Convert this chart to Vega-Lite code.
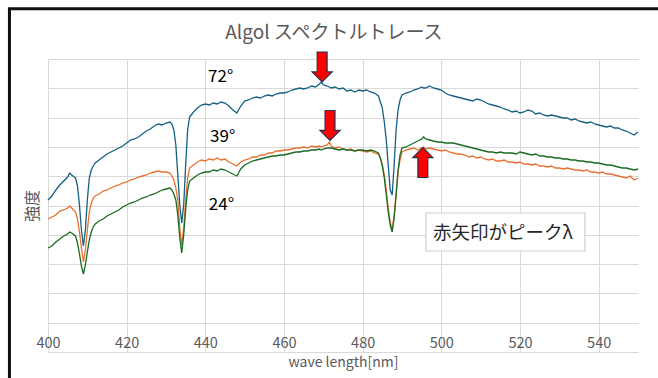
{
  "$schema": "https://vega.github.io/schema/vega-lite/v6.json",
  "width": 590,
  "height": 293,
  "autosize": {"type": "none"},
  "padding": {"left": 48, "top": 59, "right": 20, "bottom": 26},
  "background": "white",
  "config": {
    "view": {"stroke": null},
    "font": "Noto Sans CJK JP"
  },
  "datasets": {
    "spec": [
      {"wl":400,"72°":152,"39°":133,"24°":104},
      {"wl":401,"72°":156,"39°":135,"24°":106},
      {"wl":402,"72°":162,"39°":137,"24°":110},
      {"wl":403,"72°":167,"39°":141,"24°":113},
      {"wl":404,"72°":171,"39°":142,"24°":116},
      {"wl":405,"72°":175,"39°":144,"24°":118},
      {"wl":405.5,"72°":179,"39°":146,"24°":120},
      {"wl":406,"72°":177,"39°":144,"24°":119},
      {"wl":407,"72°":174,"39°":140,"24°":116},
      {"wl":407.5,"72°":166,"39°":133,"24°":109},
      {"wl":408,"72°":147,"39°":120,"24°":98},
      {"wl":408.5,"72°":122,"39°":104,"24°":86},
      {"wl":409,"72°":106,"39°":90,"24°":78},
      {"wl":409.5,"72°":122,"39°":102,"24°":87},
      {"wl":410,"72°":152,"39°":122,"24°":100},
      {"wl":410.5,"72°":174,"39°":140,"24°":112},
      {"wl":411,"72°":182,"39°":149,"24°":120},
      {"wl":411.5,"72°":186,"39°":154,"24°":125},
      {"wl":412,"72°":189,"39°":156,"24°":128},
      {"wl":413,"72°":192,"39°":158,"24°":131},
      {"wl":414,"72°":195,"39°":161,"24°":133},
      {"wl":415,"72°":198,"39°":162,"24°":136},
      {"wl":416,"72°":200,"39°":164,"24°":138},
      {"wl":417,"72°":202,"39°":166,"24°":140},
      {"wl":418,"72°":204,"39°":167,"24°":142},
      {"wl":419,"72°":206,"39°":169,"24°":145},
      {"wl":420,"72°":209,"39°":170,"24°":147},
      {"wl":421,"72°":212,"39°":172,"24°":149},
      {"wl":422,"72°":213,"39°":173,"24°":150},
      {"wl":423,"72°":215,"39°":175,"24°":152},
      {"wl":424,"72°":218,"39°":176,"24°":154},
      {"wl":425,"72°":221,"39°":177,"24°":155},
      {"wl":426,"72°":223,"39°":179,"24°":157},
      {"wl":427,"72°":226,"39°":180,"24°":158},
      {"wl":428,"72°":228,"39°":181,"24°":160},
      {"wl":429,"72°":227,"39°":180,"24°":162},
      {"wl":430,"72°":229,"39°":180,"24°":163},
      {"wl":431,"72°":230,"39°":179,"24°":164},
      {"wl":431.5,"72°":228,"39°":176,"24°":162},
      {"wl":432,"72°":222,"39°":172,"24°":158},
      {"wl":432.5,"72°":207,"39°":164,"24°":152},
      {"wl":433,"72°":177,"39°":152,"24°":137},
      {"wl":433.5,"72°":147,"39°":124,"24°":114},
      {"wl":434,"72°":129,"39°":107,"24°":99},
      {"wl":434.5,"72°":147,"39°":124,"24°":117},
      {"wl":435,"72°":187,"39°":152,"24°":142},
      {"wl":435.5,"72°":222,"39°":174,"24°":162},
      {"wl":436,"72°":235,"39°":184,"24°":171},
      {"wl":437,"72°":240,"39°":187,"24°":174},
      {"wl":438,"72°":244,"39°":190,"24°":177},
      {"wl":439,"72°":247,"39°":192,"24°":179},
      {"wl":440,"72°":248,"39°":191,"24°":180},
      {"wl":441,"72°":247,"39°":193,"24°":180},
      {"wl":442,"72°":249,"39°":192,"24°":182},
      {"wl":443,"72°":248,"39°":194,"24°":181},
      {"wl":444,"72°":250,"39°":192,"24°":183},
      {"wl":445,"72°":249,"39°":193,"24°":182},
      {"wl":446,"72°":246,"39°":190,"24°":180},
      {"wl":447,"72°":242,"39°":188,"24°":178},
      {"wl":448,"72°":239,"39°":186,"24°":176},
      {"wl":449,"72°":246,"39°":190,"24°":183},
      {"wl":450,"72°":251,"39°":192,"24°":187},
      {"wl":451,"72°":252,"39°":193,"24°":189},
      {"wl":452,"72°":254,"39°":195,"24°":191},
      {"wl":453,"72°":255,"39°":195,"24°":192},
      {"wl":454,"72°":254,"39°":197,"24°":193},
      {"wl":455,"72°":256,"39°":197,"24°":194},
      {"wl":456,"72°":257,"39°":199,"24°":195},
      {"wl":457,"72°":256,"39°":199,"24°":196},
      {"wl":458,"72°":258,"39°":201,"24°":196},
      {"wl":459,"72°":259,"39°":201,"24°":197},
      {"wl":460,"72°":259,"39°":202,"24°":197},
      {"wl":461,"72°":260,"39°":202,"24°":198},
      {"wl":462,"72°":262,"39°":203,"24°":199},
      {"wl":463,"72°":263,"39°":204,"24°":200},
      {"wl":464,"72°":264,"39°":204,"24°":200},
      {"wl":465,"72°":263,"39°":205,"24°":201},
      {"wl":466,"72°":264,"39°":204,"24°":201},
      {"wl":467,"72°":266,"39°":206,"24°":202},
      {"wl":468,"72°":265,"39°":205,"24°":202},
      {"wl":469,"72°":268,"39°":206,"24°":203},
      {"wl":469.5,"72°":270,"39°":205,"24°":202},
      {"wl":470,"72°":267,"39°":206,"24°":203},
      {"wl":471,"72°":266,"39°":207,"24°":204},
      {"wl":471.5,"72°":265,"39°":210,"24°":204},
      {"wl":472,"72°":264,"39°":206,"24°":204},
      {"wl":473,"72°":265,"39°":204,"24°":203},
      {"wl":474,"72°":263,"39°":205,"24°":202},
      {"wl":475,"72°":264,"39°":203,"24°":203},
      {"wl":476,"72°":261,"39°":202,"24°":202},
      {"wl":477,"72°":262,"39°":203,"24°":202},
      {"wl":478,"72°":260,"39°":201,"24°":201},
      {"wl":479,"72°":262,"39°":202,"24°":202},
      {"wl":480,"72°":261,"39°":201,"24°":202},
      {"wl":481,"72°":262,"39°":200,"24°":201},
      {"wl":482,"72°":260,"39°":201,"24°":202},
      {"wl":483,"72°":259,"39°":199,"24°":201},
      {"wl":484,"72°":256,"39°":198,"24°":199},
      {"wl":484.5,"72°":250,"39°":194,"24°":194},
      {"wl":485,"72°":244,"39°":187,"24°":186},
      {"wl":485.5,"72°":230,"39°":177,"24°":174},
      {"wl":486,"72°":212,"39°":162,"24°":157},
      {"wl":486.5,"72°":187,"39°":144,"24°":140},
      {"wl":487,"72°":162,"39°":130,"24°":127},
      {"wl":487.5,"72°":157,"39°":122,"24°":120},
      {"wl":488,"72°":187,"39°":137,"24°":134},
      {"wl":488.5,"72°":222,"39°":157,"24°":157},
      {"wl":489,"72°":242,"39°":180,"24°":182},
      {"wl":489.5,"72°":252,"39°":192,"24°":197},
      {"wl":490,"72°":257,"39°":200,"24°":204},
      {"wl":491,"72°":259,"39°":202,"24°":205},
      {"wl":492,"72°":260,"39°":203,"24°":207},
      {"wl":493,"72°":262,"39°":204,"24°":209},
      {"wl":494,"72°":263,"39°":202,"24°":211},
      {"wl":495,"72°":265,"39°":204,"24°":213},
      {"wl":495.5,"72°":264,"39°":205,"24°":215},
      {"wl":496,"72°":264,"39°":203,"24°":213},
      {"wl":497,"72°":266,"39°":204,"24°":212},
      {"wl":498,"72°":264,"39°":203,"24°":211},
      {"wl":499,"72°":263,"39°":202,"24°":210},
      {"wl":500,"72°":262,"39°":201,"24°":210},
      {"wl":501,"72°":259,"39°":202,"24°":209},
      {"wl":502,"72°":257,"39°":200,"24°":209},
      {"wl":503,"72°":256,"39°":199,"24°":209},
      {"wl":504,"72°":255,"39°":198,"24°":208},
      {"wl":505,"72°":254,"39°":198,"24°":207},
      {"wl":506,"72°":253,"39°":197,"24°":206},
      {"wl":507,"72°":252,"39°":195,"24°":205},
      {"wl":508,"72°":251,"39°":196,"24°":204},
      {"wl":509,"72°":253,"39°":194,"24°":203},
      {"wl":510,"72°":252,"39°":195,"24°":202},
      {"wl":511,"72°":250,"39°":193,"24°":201},
      {"wl":512,"72°":248,"39°":192,"24°":200},
      {"wl":513,"72°":247,"39°":193,"24°":200},
      {"wl":514,"72°":246,"39°":191,"24°":199},
      {"wl":515,"72°":245,"39°":191,"24°":200},
      {"wl":516,"72°":243,"39°":192,"24°":199},
      {"wl":517,"72°":242,"39°":190,"24°":199},
      {"wl":518,"72°":240,"39°":190,"24°":199},
      {"wl":519,"72°":241,"39°":189,"24°":198},
      {"wl":520,"72°":239,"39°":190,"24°":200},
      {"wl":521,"72°":240,"39°":188,"24°":199},
      {"wl":522,"72°":242,"39°":188,"24°":198},
      {"wl":523,"72°":241,"39°":187,"24°":197},
      {"wl":524,"72°":238,"39°":188,"24°":198},
      {"wl":525,"72°":239,"39°":186,"24°":196},
      {"wl":526,"72°":237,"39°":186,"24°":196},
      {"wl":527,"72°":236,"39°":185,"24°":195},
      {"wl":528,"72°":237,"39°":186,"24°":195},
      {"wl":529,"72°":236,"39°":184,"24°":194},
      {"wl":530,"72°":235,"39°":184,"24°":194},
      {"wl":531,"72°":234,"39°":183,"24°":193},
      {"wl":532,"72°":234,"39°":184,"24°":193},
      {"wl":533,"72°":232,"39°":183,"24°":192},
      {"wl":534,"72°":233,"39°":182,"24°":192},
      {"wl":535,"72°":231,"39°":182,"24°":191},
      {"wl":536,"72°":230,"39°":181,"24°":191},
      {"wl":537,"72°":229,"39°":182,"24°":190},
      {"wl":538,"72°":230,"39°":180,"24°":190},
      {"wl":539,"72°":228,"39°":180,"24°":189},
      {"wl":540,"72°":227,"39°":179,"24°":189},
      {"wl":541,"72°":226,"39°":180,"24°":188},
      {"wl":542,"72°":225,"39°":178,"24°":187},
      {"wl":543,"72°":226,"39°":178,"24°":187},
      {"wl":544,"72°":224,"39°":177,"24°":186},
      {"wl":545,"72°":224,"39°":176,"24°":185},
      {"wl":546,"72°":222,"39°":175,"24°":184},
      {"wl":547,"72°":221,"39°":174,"24°":184},
      {"wl":548,"72°":219,"39°":176,"24°":183},
      {"wl":549,"72°":217,"39°":172,"24°":182},
      {"wl":550,"72°":220,"39°":174,"24°":183}
    ],
    "labels": [
      {"wl": 440.7, "v": 275, "t": "72°"},
      {"wl": 441.2, "v": 215, "t": "39°"},
      {"wl": 440.9, "v": 147, "t": "24°"}
    ],
    "arrows": [
      {"wl": 469.7, "v": 285, "dir": "down"},
      {"wl": 471.7, "v": 226.5, "dir": "down"},
      {"wl": 495.3, "v": 189.5, "dir": "up"}
    ],
    "note": [
      {"x1": 496.1, "x2": 536.5, "y1": 139, "y2": 101, "tx": 497.9, "ty": 119, "t": "赤矢印がピークλ"}
    ]
  },
  "layer": [
    {
      "data": {"name": "spec"},
      "transform": [{"fold": ["72°", "39°", "24°"], "as": ["series", "v"]}],
      "mark": {"type": "line", "strokeWidth": 1.3, "interpolate": "linear"},
      "encoding": {
        "x": {
          "field": "wl", "type": "quantitative",
          "scale": {"domain": [400, 550], "nice": false, "zero": false},
          "axis": {
            "values": [400, 420, 440, 460, 480, 500, 520, 540],
            "tickCount": 10,
            "title": "wave length[nm]",
            "titleFontSize": 14,
            "titleFontWeight": "normal",
            "titleColor": "#595959",
            "titlePadding": 3,
            "labelFontSize": 14.5,
            "labelColor": "#595959",
            "labelBaseline": "middle",
            "labelPadding": -9,
            "labelFlush": false,
            "labelOverlap": false,
            "ticks": false,
            "grid": true,
            "gridColor": "#d9d9d9",
            "gridWidth": 1,
            "domain": true,
            "domainColor": "#d9d9d9",
            "domainWidth": 1
          }
        },
        "y": {
          "field": "v", "type": "quantitative",
          "scale": {"domain": [0, 293], "nice": false, "zero": false},
          "axis": {
            "values": [0, 29.3, 58.6, 87.9, 117.2, 146.5, 175.8, 205.1, 234.4, 263.7, 293],
            "tickCount": 12,
            "title": "強度",
            "titleFontSize": 16,
            "titleFontWeight": "normal",
            "titleColor": "#595959",
            "titlePadding": 8,
            "labels": false,
            "ticks": false,
            "domain": false,
            "grid": true,
            "gridColor": "#d9d9d9",
            "gridWidth": 1
          }
        },
        "color": {
          "field": "series", "type": "nominal",
          "scale": {"domain": ["72°", "39°", "24°"], "range": ["#156082", "#E97132", "#196B24"]},
          "legend": null
        }
      }
    },
    {
      "data": {"name": "labels"},
      "mark": {"type": "text", "align": "left", "baseline": "middle", "fontSize": 17, "color": "#000000", "font": "Noto Sans CJK JP"},
      "encoding": {
        "x": {"field": "wl", "type": "quantitative"},
        "y": {"field": "v", "type": "quantitative"},
        "text": {"field": "t"}
      }
    },
    {
      "data": {"name": "arrows"},
      "mark": {"type": "point", "filled": true, "opacity": 1, "fill": "#ff0000", "stroke": "#263250", "strokeWidth": 1.2, "size": 900},
      "encoding": {
        "x": {"field": "wl", "type": "quantitative"},
        "y": {"field": "v", "type": "quantitative"},
        "shape": {
          "field": "dir", "type": "nominal",
          "scale": {"domain": ["down", "up"], "range": ["M-0.33,-1L0.33,-1L0.33,0.33L0.67,0.33L0,1L-0.67,0.33L-0.33,0.33Z", "M-0.33,1L0.33,1L0.33,-0.33L0.67,-0.33L0,-1L-0.67,-0.33L-0.33,-0.33Z"]},
          "legend": null
        }
      }
    },
    {
      "data": {"name": "note"},
      "mark": {"type": "rect", "fill": "white", "stroke": "#d0d0d0", "strokeWidth": 1.2},
      "encoding": {
        "x": {"field": "x1", "type": "quantitative"},
        "x2": {"field": "x2"},
        "y": {"field": "y1", "type": "quantitative"},
        "y2": {"field": "y2"}
      }
    },
    {
      "data": {"name": "note"},
      "mark": {"type": "text", "align": "left", "baseline": "middle", "fontSize": 18.5, "color": "#262626", "font": "Noto Sans CJK JP"},
      "encoding": {
        "x": {"field": "tx", "type": "quantitative"},
        "y": {"field": "ty", "type": "quantitative"},
        "text": {"field": "t"}
      }
    },
    {
      "data": {"values": [{}]},
      "mark": {"type": "text", "align": "center", "baseline": "alphabetic", "fontSize": 19, "color": "#595959", "font": "Noto Sans CJK JP", "text": "Algol スペクトルトレース"},
      "encoding": {
        "x": {"datum": 472.7, "type": "quantitative"},
        "y": {"datum": 313, "type": "quantitative"}
      }
    },
    {
      "data": {"values": [{}]},
      "mark": {"type": "rect", "fillOpacity": 0, "stroke": "#111111", "strokeWidth": 3},
      "encoding": {
        "x": {"datum": 390.2, "type": "quantitative"},
        "x2": {"datum": 575},
        "y": {"datum": 343.3, "type": "quantitative"},
        "y2": {"datum": -60}
      }
    }
  ]
}
